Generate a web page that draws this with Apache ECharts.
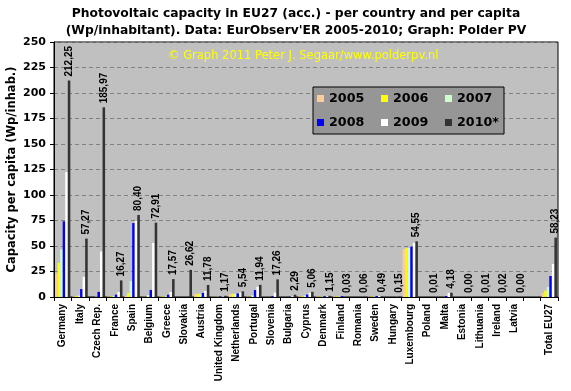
<!DOCTYPE html>
<html>
<head>
<meta charset="utf-8">
<script src="https://cdn.jsdelivr.net/npm/echarts@6/dist/echarts.min.js"></script>
<style>
html,body{margin:0;padding:0;background:#fff;}
#c{width:571px;height:391px;}
</style>
</head>
<body>
<div id="c"></div>
<script>
const categories = ['Germany','Italy','Czech Rep.','France','Spain','Belgium','Greece','Slovakia','Austria','United Kingdom','Netherlands','Portugal','Slovenia','Bulgaria','Cyprus','Denmark','Finland','Romania','Sweden','Hungary','Luxembourg','Poland','Malta','Estonia','Lithuania','Ireland','Latvia','','Total EU27'];
const seriesNames = ['2005','2006','2007','2008','2009','2010*'];
const v2005 = [23, 0.6, 0.01, 0.5, 1.0, 0.1, 0.5, 0, 2.9, 0.2, 3.1, 0.3, 0.1, 0, 0.6, 0.5, 0.7, 0, 0.4, 0, 47, 0, 0, 0, 0, 0, 0, null, 4.0];
const v2006 = [33.5, 0.9, 0.01, 0.6, 4.0, 0.2, 0.6, 0, 3.1, 0.2, 3.1, 0.3, 0.1, 0, 0.8, 0.5, 0.7, 0, 0.5, 0, 48, 0, 0, 0, 0, 0, 0, null, 6.2];
const v2007 = [46.7, 1.5, 0.4, 1.0, 15.6, 2.0, 0.8, 0, 3.3, 0.3, 3.2, 1.7, 0.1, 0, 1.3, 0.6, 0.7, 0, 0.6, 0, 48, 0, 0, 0, 0, 0, 0, null, 9.8];
const v2008 = [74.2, 7.8, 5.0, 2.3, 72.5, 6.9, 2.3, 0, 4.0, 0.4, 3.5, 6.8, 0.8, 0.1, 2.4, 0.6, 0.8, 0, 0.9, 0.05, 49.3, 0, 1.0, 0, 0, 0, 0, null, 20.6];
const v2009 = [122.5, 19.8, 44.6, 4.9, 74.5, 53.0, 4.9, 0, 6.0, 0.5, 4.2, 10.0, 4.3, 0.8, 4.2, 0.8, 0.05, 0.01, 0.9, 0.1, 53.0, 0.01, 4.0, 0, 0, 0, 0, null, 32.4];
const v2010 = [212.25, 57.27, 185.97, 16.27, 80.40, 72.91, 17.57, 26.62, 11.78, 1.17, 5.54, 11.94, 17.26, 2.29, 5.06, 1.15, 0.03, 0.06, 0.49, 0.15, 54.55, 0.01, 4.18, 0.00, 0.01, 0.02, 0.00, null, 58.23];
const yTicks = {min: 0, max: 250, interval: 25};
const colors = ['#ffcc99','#ffff00','#ccffcc','#0000ff','#ffffff','#333333'];
const allValues = [v2005, v2006, v2007, v2008, v2009, v2010];

const chart = echarts.init(document.getElementById('c'), null, {renderer: 'canvas'});
const series = allValues.map((vals, i) => ({
  name: seriesNames[i],
  type: 'bar',
  data: vals,
  itemStyle: {color: colors[i]},
  barGap: '0%',
  barCategoryGap: '12%',
  animation: false,
  label: i === 5 ? {
    show: true,
    position: 'top',
    rotate: 90,
    align: 'left',
    verticalAlign: 'middle',
    distance: 4,
    fontFamily: 'Liberation Sans',
    fontWeight: 'bold',
    fontSize: 10,
    color: '#000',
    formatter: p => (p.value == null ? '' : p.value.toFixed(2).replace('.', ','))
  } : {show: false}
}));

chart.setOption({
  animation: false,
  backgroundColor: '#ffffff',
  title: {
    text: 'Photovoltaic capacity in EU27 (acc.) - per country and per capita\n(Wp/inhabitant). Data: EurObserv\'ER 2005-2010; Graph: Polder PV',
    left: 291,
    top: 0,
    textAlign: 'center',
    textStyle: {fontFamily: 'DejaVu Sans', fontWeight: 'bold', fontSize: 12.3, lineHeight: 17, color: '#000'}
  },
  legend: {
    data: seriesNames,
    left: 313,
    top: 87,
    width: 200,
    orient: 'horizontal',
    backgroundColor: '#969696',
    borderColor: '#000',
    borderWidth: 1,
    borderRadius: 0,
    padding: [3, 2, 3, 4],
    itemWidth: 7,
    itemHeight: 7,
    itemGap: 7,
    icon: 'rect',
    selectedMode: false,
    textStyle: {fontFamily: 'DejaVu Sans', fontWeight: 'bold', fontSize: 12.7, color: '#000', width: 45, lineHeight: 17}
  },
  grid: {
    left: 54, right: 13, top: 42, bottom: 94,
    containLabel: false,
    outerBoundsMode: 'none',
    show: true,
    backgroundColor: '#c0c0c0',
    borderColor: '#000',
    borderWidth: 1
  },
  xAxis: {
    type: 'category',
    data: categories,
    axisLine: {show: true, lineStyle: {color: '#000', width: 1}},
    axisTick: {show: true, interval: 0, length: 4, lineStyle: {color: '#000'}},
    axisLabel: {interval: 0, rotate: 90, margin: 7, fontFamily: 'Liberation Sans', fontWeight: 'bold', fontSize: 10, color: '#000'},
    splitLine: {show: false}
  },
  yAxis: {
    type: 'value',
    min: yTicks.min, max: yTicks.max, interval: yTicks.interval,
    name: 'Capacity per capita (Wp/inhab.)',
    nameLocation: 'middle',
    nameGap: 36,
    nameRotate: 90,
    nameMoveOverlap: false,
    nameTextStyle: {fontFamily: 'DejaVu Sans', fontWeight: 'bold', fontSize: 11.5, color: '#000'},
    axisLine: {show: true, lineStyle: {color: '#000', width: 1}},
    axisTick: {show: true, length: 4, lineStyle: {color: '#000'}},
    axisLabel: {margin: 8, fontFamily: 'DejaVu Sans', fontWeight: 'bold', fontSize: 11, color: '#000'},
    splitLine: {show: true, lineStyle: {color: '#808080', type: [4, 3], width: 1}}
  },
  graphic: [{
    type: 'text',
    left: 168,
    top: 50,
    z: 10,
    style: {text: '\u00a9 Graph 2011 Peter J. Segaar/www.polderpv.nl', fill: '#ffff00', font: '11.5px "DejaVu Sans"'}
  }],
  series: series
});
</script>
</body>
</html>
